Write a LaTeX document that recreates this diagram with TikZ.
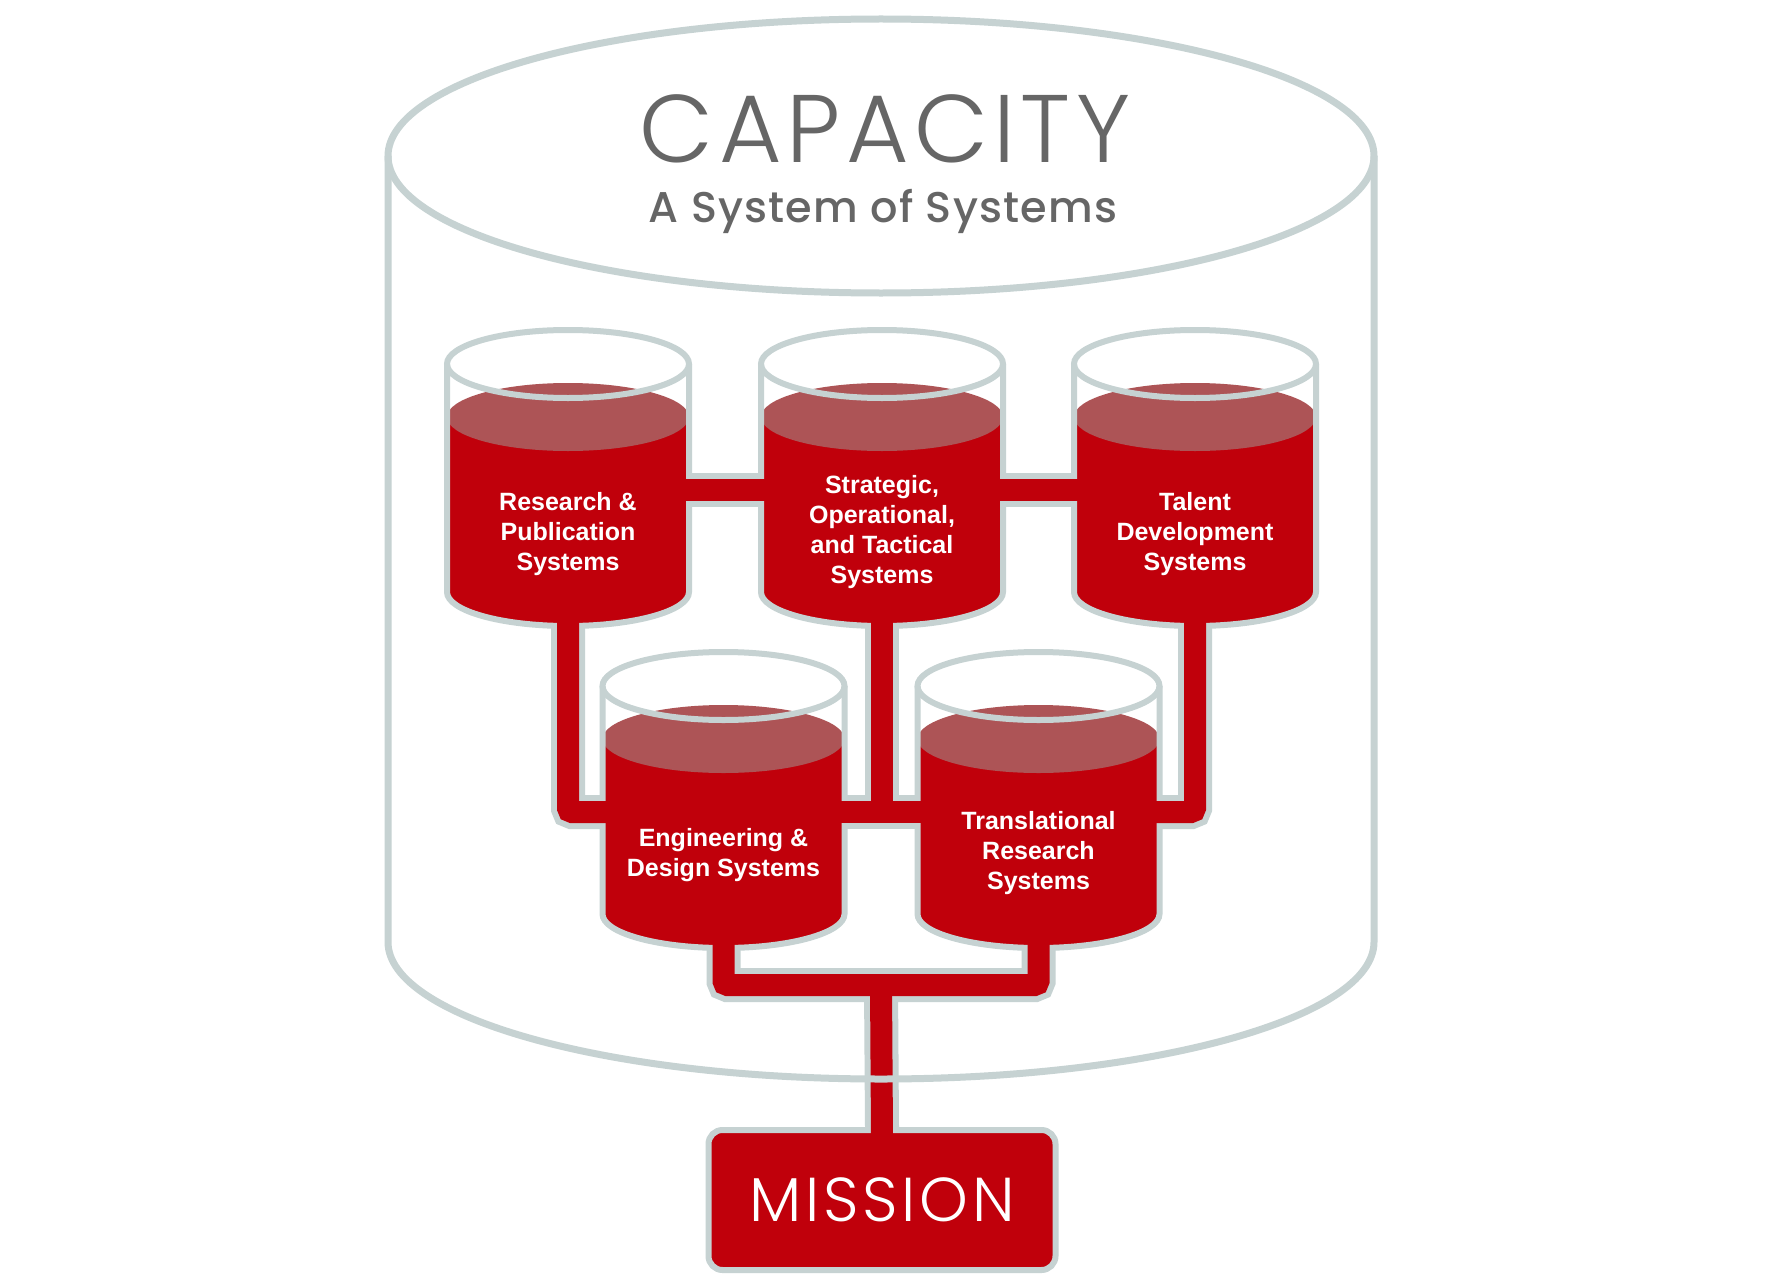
\documentclass[tikz,border=0pt]{standalone}
\usepackage{fontspec}
\setmainfont{Liberation Sans}
\newfontfamily\thinfont{Poppins Light}[LetterSpace=5.5]
\newfontfamily\boxfont{Poppins Light}[LetterSpace=6]
\newfontfamily\midfont{Poppins Medium}[LetterSpace=2.8]
\usetikzlibrary{calc}

\definecolor{pipered}{HTML}{C0000B}
\definecolor{liquidtop}{HTML}{AD5456}
\definecolor{rimgrey}{HTML}{C6D2D2}
\definecolor{titlegrey}{HTML}{666666}

\newcommand\tanklabelfont{\bfseries\fontsize{25}{30}\selectfont}

\tikzset{
  rim/.style={draw=rimgrey,line width=6pt},
  bigrim/.style={draw=rimgrey,line width=7pt},
  pipeouter/.style={draw=rimgrey,line width=34pt,rounded corners=4pt},
  pipeinner/.style={draw=pipered,line width=22pt,rounded corners=4pt},
  tanklabel/.style={text=white,font=\tanklabelfont,align=center,inner sep=0pt,anchor=base},
  missionbox/.style={draw=rimgrey,fill=pipered,line width=6pt,rounded corners=14pt,
    minimum width=347pt,minimum height=140pt,inner sep=0pt,text=white,
    font=\boxfont\fontsize{62}{62}\selectfont}
}

% one open tank, #1 = centre x, #2 = rim y
\newcommand\tank[2]{%
  \fill[pipered] (#1-121,#2+53) -- (#1-121,#2+228)
    arc[start angle=180,end angle=0,x radius=121,y radius=34] -- (#1+121,#2+53) -- cycle;
  \fill[liquidtop] (#1,#2+53) ellipse[x radius=121,y radius=34];
  \draw[rim] (#1,#2) ellipse[x radius=121,y radius=34];
  \draw[rim] (#1-121,#2) -- (#1-121,#2+228)
    arc[start angle=180,end angle=0,x radius=121,y radius=34] -- (#1+121,#2);
}

% all pipes, #1 = style, #2 = how far the ends reach into the tanks
\newcommand\pipework[2]{%
  \draw[#1] ($(rps)+(121-#2,126)$) -- ($(sot)+(-121+#2,126)$);
  \draw[#1] ($(sot)+(121-#2,126)$) -- ($(tds)+(-121+#2,126)$);
  \draw[#1] ($(eds)+(121-#2,126)$) -- ($(trs)+(-121+#2,126)$);
  \draw[#1] ($(rps)+(0,259-#2)$) |- ($(eds)+(-121+#2,126)$);
  \draw[#1] ($(tds)+(0,259-#2)$) |- ($(trs)+(121-#2,126)$);
  \draw[#1] ($(sot)+(0,259-#2)$) -- ($(sot)+(0,448)$);
  \draw[#1] ($(eds)+(0,259-#2)$) -- ($(eds)+(0,299)$) -- ($(trs)+(0,299)$) -- ($(trs)+(0,259-#2)$);
  \draw[#1] ($(eds)!.5!(trs)+(0,299)$) -- ($(mission.north)+(0,2*#2)$);
}

\begin{document}
\begin{tikzpicture}[x=1pt,y=-1pt]
  \fill[white] (0,0) rectangle (1791,1287);

  \coordinate (rps) at (568,364);
  \coordinate (sot) at (882,364);
  \coordinate (tds) at (1195,364);
  \coordinate (eds) at (723.5,686);
  \coordinate (trs) at (1038.5,686);

  \node[missionbox,draw=none,fill=none] (mission) at (882,1200) {};
  \pipework{pipeouter}{0}

  \foreach \cx/\ty in {568/364,882/364,1195/364,723.5/686,1038.5/686}
    \tank{\cx}{\ty};

  \node[missionbox] (missiontext) at (mission) {MISSION};
  \pipework{pipeinner}{5}

  \node[tanklabel] (rpslabel) at ($(rps)+(0,206)$) {Research \&\\Publication\\Systems};
  \node[tanklabel] (sotlabel) at ($(sot)+(0,219)$) {Strategic,\\Operational,\\and Tactical\\Systems};
  \node[tanklabel] (tdslabel) at ($(tds)+(0,206)$) {Talent\\Development\\Systems};
  \node[tanklabel] (edslabel) at ($(eds)+(0,190)$) {Engineering \&\\Design Systems};
  \node[tanklabel] (trslabel) at ($(trs)+(0,203)$) {Translational\\Research\\Systems};

  % the big tank round everything
  \draw[bigrim] (881,156) ellipse[x radius=493,y radius=137];
  \draw[bigrim] (388,156) -- (388,942)
    arc[start angle=180,end angle=0,x radius=493,y radius=137] -- (1374,156);

  \node[anchor=base,inner sep=0pt,text=titlegrey,font=\thinfont\fontsize{96}{96}\selectfont]
    (title) at (885,162) {CAPACITY};
  \node[anchor=base,inner sep=0pt,text=titlegrey,font=\midfont\fontsize{43}{43}\selectfont]
    (subtitle) at (883,222) {A System of Systems};
\end{tikzpicture}
\end{document}
